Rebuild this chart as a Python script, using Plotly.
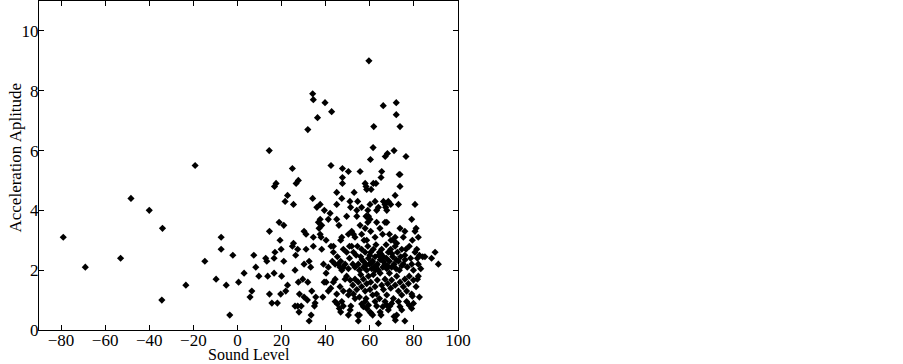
import plotly.graph_objects as go

# Sound level (x) and acceleration amplitude (y)
sound_level = [
    -79, -69, -53, -48.3, -40, -34, -34.3, -23.4, -19.2, -14.8, -9.7, -7.4, -7.4, -5.1, -3.5, -2.1,
    0.5, 3, 5.7, 6.5, 7.4, 8.3, 9.7, 12.8, 13.3, 13.7, 14.4, 14.5, 14.5, 15.6, 16.6, 16.6, 16.8, 17.5,
    17, 18.1, 18.9, 19.3, 19.8, 20, 19.6, 21, 21, 21.6, 21.9, 22.7, 22.7, 24.9, 24.9, 25.4, 25.4, 26.1,
    26.1, 26.4, 26.6, 27.6, 27.3, 27.9, 27.6, 27.3, 28.9, 28.1, 29.6, 30.2, 30.2, 31.1, 30.2, 31.1,
    31.9, 31.9, 32.5, 31.7, 32.5, 33.2, 33.4, 34.1, 34.4, 34.1, 33.7, 34.4, 34.4, 34.9, 35.2, 35.5,
    36.3, 36, 36.7, 37, 37.5, 37.5, 37.5, 37.9, 38.2, 38.2, 38.7, 39, 39.7, 39.3, 39.4, 40.2, 40.2,
    40.2, 41.2, 41.2, 41.2, 42, 42.3, 42.4, 42.4, 42.7, 43, 43.5,
    # upper band
    59.6, 66.1, 72, 72, 73.7, 61.8, 61.5, 60.3, 67, 68, 71, 76.4,
    45, 45, 47.3, 47.6, 47.6, 47.6, 50.3, 52.9, 51, 51.3, 54.1, 54.5, 55.6, 56.3, 57.9, 58.3, 58.6,
    59.1, 60.1, 60.6, 61.6, 62.8, 62.4, 63.1, 63.9, 65.4, 65.1, 66.2, 66.9, 67.2, 67.7, 68.4, 69.5,
    71.5, 73, 73.3, 73.7, 73.7, 80.5, 79,
    # 3-4 band
    45, 46, 46.8, 47.3, 49.5, 50.3, 50.8, 51.8, 52.6, 53.3, 54.1, 55.6, 56.3, 57.4, 57.9, 58.3, 58.6,
    59.1, 59.4, 60.1, 60.4, 58.6, 62.4, 63.1, 64.6, 65.8, 66.9, 67.7, 68.9, 69.6, 70.7, 71.5, 72.2,
    73.7, 75.9, 75.2, 79.3, 80.5, 81, 82,
    # 2-3 band
    43.5, 44.3, 45.8, 46.5, 46.8, 48, 48.8, 49.5, 50.3, 50.8, 51.8, 52.3, 52.6, 53.3, 53.8, 54.4,
    54.8, 55.3, 55.9, 56.3, 57.1, 57.1, 57.9, 58.2, 58.6, 59.1, 59.4, 59.8, 60.4, 60.9, 61.3, 61.6,
    61.9, 62.4, 62.8, 63.4, 63.9, 64.4, 64.7, 65.4, 65.9, 66.2, 66.9, 67.4, 67.7, 68.4, 68.9, 69.5,
    69.9, 70.4, 71, 71.5, 71.9, 72.5, 73, 73.4, 74, 74.5, 75.2, 75.9, 76.4, 77, 77.9, 78.5, 79, 79.8,
    80.5, 81.3, 81.6, 82, 82.5, 83.1, 84, 85, 88, 89.6, 91.1, 45.3, 47.3, 48,
    56.5, 58.0, 60.0, 61.0, 62.5, 64.0, 66.0, 68.0, 70.0, 72.0, 74.5, 76.0, 60.5, 63.0, 65.0, 67.5,
    # 1-2 band
    43.5, 44.3, 45, 46.5, 48, 48.8, 49.5, 50.3, 50.8, 51.1, 52.3, 52.6, 53.3, 54.1, 54.8, 55.3, 55.9,
    56.3, 57.1, 57.9, 58.3, 58.6, 59.4, 60.1, 60.4, 61.3, 61.6, 62.4, 63.1, 63.4, 64.4, 64.7, 65.4,
    66.2, 66.9, 67.7, 68.1, 68.9, 69.5, 69.9, 70.7, 71.5, 72.2, 73, 73.7, 74.5, 75.2, 75.9, 76.7,
    77.5, 77.9, 79, 79.8, 81, 81.6, 82, 82.5, 79.3,
    # 0-1 band
    44.3, 45.3, 46.2, 46.8, 47.3, 48, 50.3, 51.1, 51.4, 53.3, 54.5, 54.8, 55.3, 56.3, 57.1, 57.9,
    58.6, 59.4, 60.1, 60.6, 61.3, 62.4, 63.1, 63.9, 64.7, 65.1, 65.9, 66.9, 67.7, 68.4, 69.1, 69.9,
    71, 71.6, 72.2, 73, 73.7, 74.5, 75.9, 76.7, 77.9, 79, 79.8,
]
acceleration = [
    3.1, 2.1, 2.4, 4.4, 4.0, 3.4, 1.0, 1.5, 5.5, 2.3, 1.7, 3.1, 2.7, 1.5, 0.5, 2.5,
    1.6, 1.9, 1.1, 1.3, 2.5, 2.1, 1.8, 2.4, 2.3, 1.8, 6.0, 3.3, 1.2, 0.9, 1.9, 2.4, 4.8, 4.9,
    2.6, 0.9, 3.6, 3.0, 2.7, 1.8, 1.2, 2.3, 3.5, 4.3, 1.3, 4.5, 1.5, 5.4, 2.8, 4.2, 2.9, 0.8,
    2.0, 2.5, 4.9, 5.0, 0.8, 0.6, 1.6, 2.7, 0.8, 1.2, 1.7, 3.3, 2.2, 3.2, 1.1, 2.7,
    6.7, 1.6, 0.3, 1.0, 2.3, 2.1, 0.5, 7.9, 7.7, 4.4, 1.3, 3.1, 2.8, 0.8, 0.9, 1.1,
    7.1, 4.1, 3.6, 3.4, 3.7, 3.2, 4.2, 3.1, 2.7, 3.5, 1.1, 2.2, 7.6, 1.6, 4.0, 1.6, 3.0,
    1.9, 2.1, 3.7, 1.3, 3.9, 1.4, 5.5, 2.8, 7.3, 2.3, 2.8,
    # upper band
    9.0, 7.5, 7.6, 7.2, 6.8, 6.8, 6.1, 5.7, 5.8, 5.9, 6.0, 5.8,
    4.6, 4.2, 4.4, 5.4, 5.1, 4.9, 5.3, 4.6, 4.3, 4.1, 4.0, 4.3, 5.3, 4.1, 4.9, 4.8, 4.7,
    4.0, 4.2, 4.7, 4.9, 4.9, 4.3, 4.0, 4.1, 5.3, 5.1, 4.3, 4.2, 4.1, 4.0, 4.3, 4.2,
    4.5, 4.2, 5.2, 5.2, 4.8, 4.2, 3.7,
    # 3-4 band
    3.7, 3.5, 3.0, 3.1, 3.8, 3.2, 2.8, 3.3, 3.2, 3.1, 3.8, 3.5, 3.2, 3.0, 3.4, 3.8, 3.8,
    3.6, 3.8, 3.7, 3.3, 3.0, 3.1, 3.6, 3.4, 3.2, 3.6, 3.6, 3.2, 3.0, 3.0, 3.1, 2.9,
    3.4, 3.3, 3.1, 3.0, 3.3, 3.4, 3.1,
    # 2-3 band
    2.6, 2.2, 2.2, 2.1, 2.3, 2.7, 2.2, 2.6, 2.05, 2.4, 2.8, 2.2, 2.6, 2.1, 2.5, 2.8,
    2.2, 2.0, 2.45, 2.7, 2.1, 2.3, 2.6, 2.2, 2.0, 2.8, 2.4, 2.2, 2.6, 2.05, 2.3, 2.7,
    2.1, 2.45, 2.85, 2.2, 2.0, 2.6, 2.35, 2.7, 2.1, 2.45, 2.2, 2.85, 2.05, 2.6, 2.3, 2.7,
    2.1, 2.45, 2.2, 2.8, 2.05, 2.6, 2.3, 2.0, 2.45, 2.7, 2.2, 2.5, 2.7, 2.1, 2.8, 2.4, 2.2, 2.0,
    2.6, 2.7, 2.4, 2.2, 2.5, 2.05, 2.45, 2.45, 2.4, 2.6, 2.2, 2.45, 2.0, 2.1,
    2.35, 2.15, 2.5, 2.25, 2.0, 2.5, 2.3, 2.15, 2.55, 2.35, 2.15, 2.35, 2.25, 2.15, 2.55, 2.4,
    # 1-2 band
    1.6, 1.7, 1.2, 1.45, 1.3, 1.7, 1.8, 1.17, 1.3, 1.67, 1.5, 1.2, 1.7, 1.35, 1.6, 1.1, 1.85,
    1.45, 1.7, 1.3, 1.05, 1.55, 1.8, 1.35, 1.6, 1.17, 1.85, 1.45, 1.2, 1.67, 1.05, 1.9, 1.5,
    1.35, 1.7, 1.17, 1.55, 1.9, 1.4, 1.67, 1.05, 1.5, 1.8, 1.3, 1.6, 1.17, 1.45, 1.7, 1.3,
    1.55, 1.8, 1.2, 1.67, 1.45, 1.7, 1.8, 1.1, 1.13,
    # 0-1 band
    0.95, 0.87, 0.72, 0.6, 0.95, 0.8, 0.5, 0.67, 0.8, 1.05, 0.5, 0.3, 0.5, 0.87, 0.78, 0.95,
    0.72, 0.83, 0.6, 0.56, 0.5, 0.95, 0.8, 0.22, 0.6, 0.5, 0.78, 0.95, 0.83, 0.67, 0.8, 0.89,
    0.45, 0.33, 0.5, 0.95, 0.78, 0.67, 0.3, 0.95, 0.83, 0.72, 0.89,
]

x_ticks = [-80, -60, -40, -20, 0, 20, 40, 60, 80, 100]
y_ticks = [0, 2, 4, 6, 8, 10]
x_title = "Sound Level"
y_title = "Acceleration Aplitude"

n = min(len(sound_level), len(acceleration))

fig = go.Figure(go.Scatter(
    x=sound_level[:n], y=acceleration[:n], mode="markers",
    marker=dict(symbol="diamond", size=5.5, color="black", line=dict(width=0)),
))

font = dict(family="Liberation Serif, Times New Roman, serif", size=17, color="black")
title_font = dict(family="Liberation Serif, Times New Roman, serif", size=16, color="black")
axis_common = dict(
    showgrid=False, zeroline=False, showline=True, linecolor="black", linewidth=1,
    mirror="ticks", ticks="inside", ticklen=5, tickwidth=1, tickcolor="black",
    tickfont=font, automargin=False,
)
fig.update_layout(
    width=903, height=364,
    margin=dict(l=39, r=445, t=1, b=34, autoexpand=False),
    paper_bgcolor="white", plot_bgcolor="white",
    showlegend=False, font=font,
    xaxis=dict(range=[-90, 100], tickvals=x_ticks, ticklabelstandoff=-5, **axis_common),
    yaxis=dict(range=[0, 11], tickvals=y_ticks, ticklabelstandoff=-4, **axis_common),
    annotations=[
        dict(text=x_title, xref="paper", yref="paper", x=0.5, y=0, xanchor="center",
             yanchor="top", yshift=-14, showarrow=False, font=title_font),
        dict(text=y_title, xref="paper", yref="paper", x=0, y=0.5, xanchor="center",
             yanchor="middle", xshift=-24, yshift=8, textangle=-90, showarrow=False, font=font),
    ],
)
fig.write_html("out.html", config={"displayModeBar": False},
               post_script="document.body.style.margin='0';")
